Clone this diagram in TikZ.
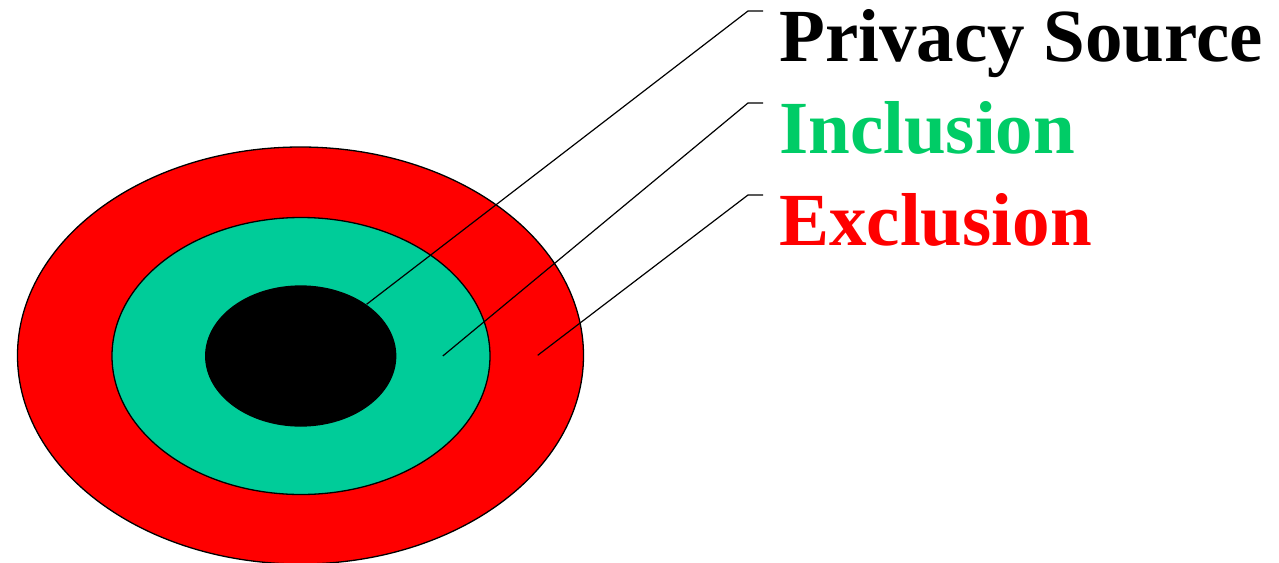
\documentclass[tikz,border=0pt]{standalone}
\usepackage{fontspec}
\setmainfont{Liberation Serif}
\usetikzlibrary{shapes.geometric}
\definecolor{ringred}{RGB}{255,0,0}
\definecolor{ringgreen}{RGB}{0,204,153}
\definecolor{txtgreen}{RGB}{0,204,102}
\begin{document}
\begin{tikzpicture}[x=1pt,y=-1pt,
  ring/.style={ellipse, draw=black, line width=1.3pt, inner sep=0pt, outer sep=0pt},
  lbl/.style={anchor=base west, inner sep=0pt, font=\fontsize{75}{80}\selectfont\bfseries},
  leader/.style={draw=black, line width=1.2pt, line join=miter}]
\useasboundingbox (0,0) rectangle (1279,562);
\node[ring, fill=ringred, minimum width=566pt, minimum height=417pt] (outer) at (300.5,355.5) {};
\node[ring, fill=ringgreen, minimum width=378pt, minimum height=277pt] (middle) at (301,356) {};
\node[ring, fill=black, minimum width=190pt, minimum height=140pt] (inner) at (300.7,356) {};
\node[lbl, text=black] (ps) at (779,61) {Privacy Source};
\node[lbl, text=txtgreen] (inc) at (779,153) {Inclusion};
\node[lbl, text=ringred] (exc) at (779,245) {Exclusion};
\coordinate (psA) at (366.6,304.3);
\coordinate (psB) at (748,11);
\coordinate (psC) at (763,11);
\coordinate (incA) at (442.8,356);
\coordinate (incB) at (748,103);
\coordinate (incC) at (763,103);
\coordinate (excA) at (537.7,355.3);
\coordinate (excB) at (748,195);
\coordinate (excC) at (763,195);
\draw[leader] (psA) -- (psB) -- (psC);
\draw[leader] (incA) -- (incB) -- (incC);
\draw[leader] (excA) -- (excB) -- (excC);
\end{tikzpicture}
\end{document}
